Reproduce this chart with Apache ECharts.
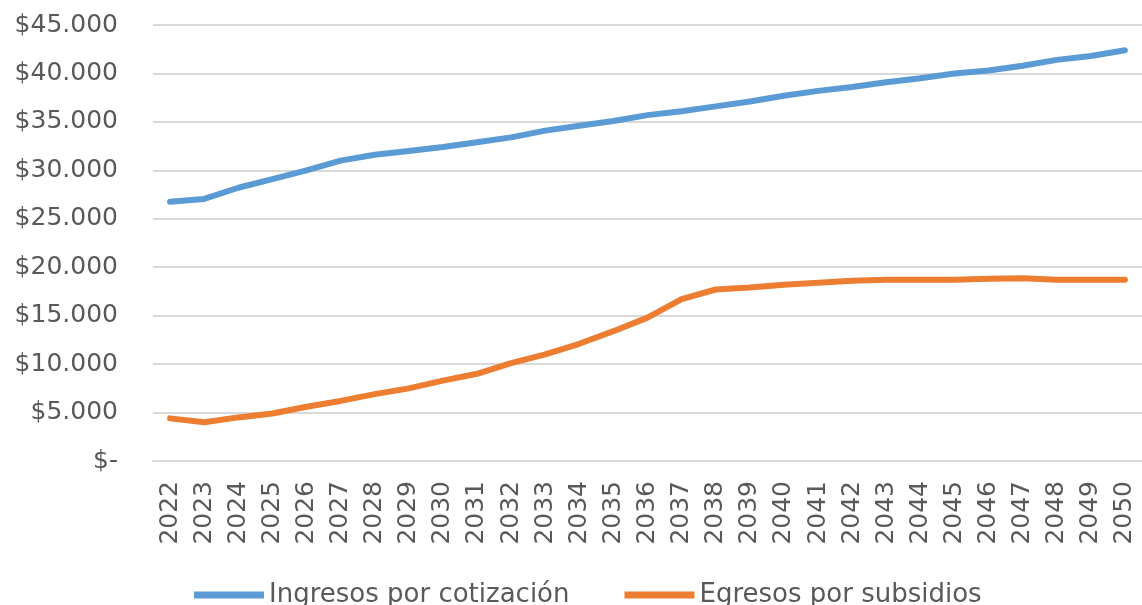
<!DOCTYPE html>
<html>
<head>
<meta charset="utf-8">
<style>
  html, body { margin: 0; padding: 0; background: #fff; }
  #chart { width: 1142px; height: 605px; }
</style>
<script src="https://cdn.jsdelivr.net/npm/echarts@6/dist/echarts.min.js"></script>
</head>
<body>
<div id="chart"></div>
<script>
// años
const years = ['2022', '2023', '2024', '2025', '2026', '2027', '2028', '2029', '2030', '2031',
  '2032', '2033', '2034', '2035', '2036', '2037', '2038', '2039', '2040', '2041',
  '2042', '2043', '2044', '2045', '2046', '2047', '2048', '2049', '2050']

const ingresos = [26750, 27050, 28200, 29100, 30000, 31000, 31600, 32000, 32400, 32900,
  33400, 34100, 34600, 35100, 35700, 36100, 36600, 37100, 37700, 38200,
  38600, 39100, 39500, 40000, 40300, 40800, 41400, 41800, 42400]

const egresos = [4400, 4000, 4500, 4900, 5600, 6200, 6900, 7500, 8300, 9000,
  10100, 11000, 12100, 13400, 14800, 16700, 17700, 17900, 18200, 18400,
  18600, 18700, 18700, 18700, 18800, 18850, 18700, 18700, 18700]

const seriesNames = ['Ingresos por cotización', 'Egresos por subsidios']

const textColor = '#595959'
const font = 'DejaVu Sans, Verdana, sans-serif'

function money(v) {
  if (v === 0) return '$-'
  return '$' + String(v).replace(/\B(?=(\d{3})+(?!\d))/g, '.')
}

const chart = echarts.init(document.getElementById('chart'))

chart.setOption({
  animation: false,
  color: ['#5B9BD5', '#ED7D31'],
  grid: {
    left: 153,
    top: 25,
    width: 994,
    bottom: 144
  },
  legend: {
    data: seriesNames,
    left: 189,
    top: 577,
    itemWidth: 70,
    itemHeight: 7,
    itemGap: 55,
    icon: 'rect',
    textStyle: { fontSize: 26, color: textColor, fontFamily: font }
  },
  xAxis: {
    type: 'category',
    data: years,
    boundaryGap: true,
    axisLine: { lineStyle: { color: '#D9D9D9', width: 2 } },
    axisTick: { show: false },
    axisLabel: {
      rotate: 90,
      margin: 20,
      fontSize: 25,
      color: textColor,
      fontFamily: font,
      interval: 0
    }
  },
  yAxis: {
    type: 'value',
    min: 0,
    max: 45000,
    interval: 5000,
    axisLine: { show: false },
    axisTick: { show: false },
    splitLine: { lineStyle: { color: '#D9D9D9', width: 2 } },
    axisLabel: {
      formatter: money,
      margin: 35,
      fontSize: 25,
      color: textColor,
      fontFamily: font
    }
  },
  series: [
    {
      name: seriesNames[0],
      type: 'line',
      data: ingresos,
      symbol: 'none',
      lineStyle: { width: 6, cap: 'round', join: 'round' }
    },
    {
      name: seriesNames[1],
      type: 'line',
      data: egresos,
      symbol: 'none',
      lineStyle: { width: 6, cap: 'round', join: 'round' }
    }
  ]
})
</script>
</body>
</html>
